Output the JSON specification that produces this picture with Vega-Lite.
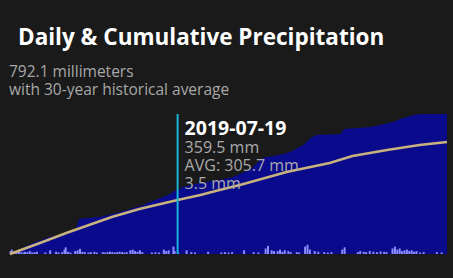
{
  "$schema": "https://vega.github.io/schema/vega-lite/v6.json",
  "width": 437,
  "height": 140,
  "autosize": {"type": "none"},
  "padding": {"left": 10, "top": 114, "right": 6, "bottom": 24},
  "background": "#1a1a1a",
  "config": {"view": {"stroke": null}, "font": "Open Sans"},
  "title": {
    "text": "Daily & Cumulative Precipitation",
    "anchor": "start",
    "frame": "group",
    "dx": 8,
    "color": "#ffffff",
    "fontSize": 22.5,
    "fontWeight": "bold",
    "font": "Open Sans",
    "offset": 16
  },
  "datasets": {
    "cum": [
      {"d": "2019-03-01", "v": 0},
      {"d": "2019-03-20", "v": 62},
      {"d": "2019-04-03", "v": 96},
      {"d": "2019-04-18", "v": 119},
      {"d": "2019-04-24", "v": 130},
      {"d": "2019-04-28", "v": 200},
      {"d": "2019-05-15", "v": 209},
      {"d": "2019-05-29", "v": 232},
      {"d": "2019-06-18", "v": 272},
      {"d": "2019-06-26", "v": 294},
      {"d": "2019-07-13", "v": 340},
      {"d": "2019-07-16", "v": 356},
      {"d": "2019-07-19", "v": 359.5},
      {"d": "2019-07-23", "v": 379},
      {"d": "2019-08-07", "v": 402},
      {"d": "2019-09-01", "v": 430},
      {"d": "2019-09-17", "v": 475},
      {"d": "2019-09-28", "v": 543},
      {"d": "2019-10-15", "v": 566},
      {"d": "2019-10-21", "v": 577},
      {"d": "2019-11-01", "v": 617},
      {"d": "2019-11-07", "v": 656},
      {"d": "2019-11-12", "v": 673},
      {"d": "2019-12-02", "v": 679},
      {"d": "2019-12-05", "v": 707},
      {"d": "2019-12-27", "v": 719},
      {"d": "2020-01-15", "v": 747},
      {"d": "2020-01-21", "v": 764},
      {"d": "2020-02-01", "v": 786},
      {"d": "2020-02-06", "v": 792.1},
      {"d": "2020-02-29", "v": 792.1}
    ],
    "avg": [
      {"d": "2019-03-01", "v": 0},
      {"d": "2019-03-26", "v": 62},
      {"d": "2019-04-17", "v": 119},
      {"d": "2019-05-06", "v": 164},
      {"d": "2019-05-25", "v": 209},
      {"d": "2019-06-17", "v": 255},
      {"d": "2019-07-19", "v": 305.7},
      {"d": "2019-08-07", "v": 334},
      {"d": "2019-08-23", "v": 362},
      {"d": "2019-09-09", "v": 390},
      {"d": "2019-10-18", "v": 464},
      {"d": "2019-11-23", "v": 515},
      {"d": "2019-12-12", "v": 554},
      {"d": "2020-01-10", "v": 588},
      {"d": "2020-02-06", "v": 617},
      {"d": "2020-02-29", "v": 634}
    ],
    "daily": [
      {"d": "2019-03-01", "p": 8}, {"d": "2019-03-02", "p": 12}, {"d": "2019-03-03", "p": 5},
      {"d": "2019-03-05", "p": 6}, {"d": "2019-03-06", "p": 4}, {"d": "2019-03-08", "p": 10},
      {"d": "2019-03-10", "p": 5}, {"d": "2019-03-12", "p": 4}, {"d": "2019-03-13", "p": 6},
      {"d": "2019-03-15", "p": 5}, {"d": "2019-03-17", "p": 8}, {"d": "2019-03-19", "p": 4},
      {"d": "2019-03-21", "p": 5}, {"d": "2019-03-23", "p": 6}, {"d": "2019-03-30", "p": 4},
      {"d": "2019-04-03", "p": 10}, {"d": "2019-04-08", "p": 6}, {"d": "2019-04-10", "p": 4},
      {"d": "2019-04-13", "p": 5}, {"d": "2019-04-15", "p": 12}, {"d": "2019-04-16", "p": 18},
      {"d": "2019-04-18", "p": 6}, {"d": "2019-04-20", "p": 4}, {"d": "2019-04-24", "p": 8},
      {"d": "2019-04-26", "p": 10}, {"d": "2019-04-28", "p": 14}, {"d": "2019-04-30", "p": 6},
      {"d": "2019-05-02", "p": 5}, {"d": "2019-05-05", "p": 4}, {"d": "2019-05-07", "p": 5},
      {"d": "2019-05-10", "p": 6}, {"d": "2019-05-12", "p": 4}, {"d": "2019-05-17", "p": 5},
      {"d": "2019-05-19", "p": 4}, {"d": "2019-05-21", "p": 5}, {"d": "2019-05-23", "p": 6},
      {"d": "2019-05-25", "p": 5}, {"d": "2019-05-27", "p": 4}, {"d": "2019-05-29", "p": 5},
      {"d": "2019-05-31", "p": 6}, {"d": "2019-06-02", "p": 5}, {"d": "2019-06-04", "p": 4},
      {"d": "2019-06-06", "p": 5}, {"d": "2019-06-09", "p": 10}, {"d": "2019-06-11", "p": 12},
      {"d": "2019-06-13", "p": 8}, {"d": "2019-06-15", "p": 6}, {"d": "2019-06-17", "p": 10},
      {"d": "2019-06-19", "p": 5}, {"d": "2019-06-27", "p": 4}, {"d": "2019-06-30", "p": 5},
      {"d": "2019-07-03", "p": 4}, {"d": "2019-07-07", "p": 12}, {"d": "2019-07-09", "p": 8},
      {"d": "2019-07-11", "p": 10}, {"d": "2019-07-15", "p": 20}, {"d": "2019-07-16", "p": 8},
      {"d": "2019-07-19", "p": 3.5}, {"d": "2019-07-26", "p": 10}, {"d": "2019-07-30", "p": 5},
      {"d": "2019-08-02", "p": 4}, {"d": "2019-08-13", "p": 6}, {"d": "2019-08-24", "p": 4},
      {"d": "2019-08-27", "p": 5}, {"d": "2019-08-30", "p": 4}, {"d": "2019-09-02", "p": 5},
      {"d": "2019-09-12", "p": 10}, {"d": "2019-09-20", "p": 5}, {"d": "2019-09-24", "p": 4},
      {"d": "2019-09-30", "p": 15}, {"d": "2019-10-02", "p": 22}, {"d": "2019-10-05", "p": 10},
      {"d": "2019-10-07", "p": 8}, {"d": "2019-10-10", "p": 8}, {"d": "2019-10-12", "p": 12},
      {"d": "2019-10-14", "p": 6}, {"d": "2019-10-16", "p": 10}, {"d": "2019-10-19", "p": 8},
      {"d": "2019-10-21", "p": 5}, {"d": "2019-10-26", "p": 5}, {"d": "2019-10-28", "p": 4},
      {"d": "2019-11-02", "p": 20}, {"d": "2019-11-04", "p": 25}, {"d": "2019-11-06", "p": 12},
      {"d": "2019-11-10", "p": 8}, {"d": "2019-11-13", "p": 6}, {"d": "2019-11-18", "p": 5},
      {"d": "2019-11-21", "p": 4}, {"d": "2019-11-24", "p": 5}, {"d": "2019-12-03", "p": 12},
      {"d": "2019-12-05", "p": 18}, {"d": "2019-12-16", "p": 5}, {"d": "2019-12-18", "p": 8},
      {"d": "2019-12-21", "p": 6}, {"d": "2019-12-23", "p": 5}, {"d": "2019-12-26", "p": 8},
      {"d": "2019-12-29", "p": 6}, {"d": "2020-01-01", "p": 5}, {"d": "2020-01-04", "p": 7},
      {"d": "2020-01-07", "p": 6}, {"d": "2020-01-09", "p": 5}, {"d": "2020-01-14", "p": 15},
      {"d": "2020-01-16", "p": 20}, {"d": "2020-01-18", "p": 12}, {"d": "2020-01-20", "p": 15},
      {"d": "2020-01-22", "p": 8}, {"d": "2020-01-24", "p": 10}, {"d": "2020-01-26", "p": 12},
      {"d": "2020-01-28", "p": 8}, {"d": "2020-01-30", "p": 10}, {"d": "2020-02-01", "p": 6},
      {"d": "2020-02-03", "p": 8}, {"d": "2020-02-06", "p": 4}, {"d": "2020-02-09", "p": 5},
      {"d": "2020-02-20", "p": 5}, {"d": "2020-02-24", "p": 4}
    ],
    "sel": [
      {"d": "2019-07-19", "label": "2019-07-19", "info": ["359.5 mm", "AVG: 305.7 mm", "3.5 mm"]}
    ],
    "sub": [
      {"d": "2019-03-01", "sub": ["792.1 millimeters", "with 30-year historical average"]}
    ]
  },
  "resolve": {"scale": {"y": "independent"}},
  "layer": [
    {
      "data": {"name": "cum"},
      "mark": {"type": "area", "color": "#0a0a8c", "interpolate": "linear"},
      "encoding": {
        "x": {"field": "d", "type": "temporal", "axis": null,
              "scale": {"type": "utc", "domain": [{"year": 2019, "month": 3, "date": 1, "utc": true}, {"year": 2020, "month": 2, "date": 29, "utc": true}]}},
        "y": {"field": "v", "type": "quantitative", "axis": null, "scale": {"domain": [0, 792.1], "nice": false}}
      }
    },
    {
      "data": {"name": "daily"},
      "mark": {"type": "bar", "color": "#8c8cff", "width": 2},
      "encoding": {
        "x": {"field": "d", "timeUnit": "utcyearmonthdate", "type": "temporal", "axis": null},
        "y": {"field": "p", "type": "quantitative", "axis": null, "scale": {"domain": [0, 380], "nice": false}}
      }
    },
    {
      "data": {"name": "avg"},
      "mark": {"type": "line", "color": "#c8b27e", "strokeWidth": 2.5},
      "encoding": {
        "x": {"field": "d", "type": "temporal", "axis": null},
        "y": {"field": "v", "type": "quantitative", "axis": null, "scale": {"domain": [0, 792.1], "nice": false}}
      }
    },
    {
      "data": {"name": "sel"},
      "mark": {"type": "rule", "color": "#19b5d8", "strokeWidth": 2},
      "encoding": {
        "x": {"field": "d", "type": "temporal", "axis": null}
      }
    },
    {
      "data": {"name": "sel"},
      "mark": {"type": "text", "align": "left", "baseline": "alphabetic", "dx": 7, "dy": 21, "fontSize": 19.5, "fontWeight": "bold", "color": "#ffffff", "font": "Open Sans"},
      "encoding": {
        "x": {"field": "d", "type": "temporal", "axis": null},
        "y": {"datum": 792.1, "type": "quantitative", "axis": null, "scale": {"domain": [0, 792.1], "nice": false}},
        "text": {"field": "label", "type": "nominal"}
      }
    },
    {
      "data": {"name": "sel"},
      "mark": {"type": "text", "align": "left", "baseline": "alphabetic", "dx": 7, "dy": 39, "fontSize": 16, "lineHeight": 18, "color": "#aaaaaa", "font": "Open Sans"},
      "encoding": {
        "x": {"field": "d", "type": "temporal", "axis": null},
        "y": {"datum": 792.1, "type": "quantitative", "axis": null, "scale": {"domain": [0, 792.1], "nice": false}},
        "text": {"field": "info", "type": "nominal"}
      }
    },
    {
      "data": {"name": "sub"},
      "mark": {"type": "text", "align": "left", "baseline": "alphabetic", "dx": -1, "dy": -37, "fontSize": 15.5, "lineHeight": 18, "color": "#a8a8a8", "font": "Open Sans"},
      "encoding": {
        "x": {"field": "d", "type": "temporal", "axis": null},
        "y": {"datum": 792.1, "type": "quantitative", "axis": null, "scale": {"domain": [0, 792.1], "nice": false}},
        "text": {"field": "sub", "type": "nominal"}
      }
    }
  ]
}
